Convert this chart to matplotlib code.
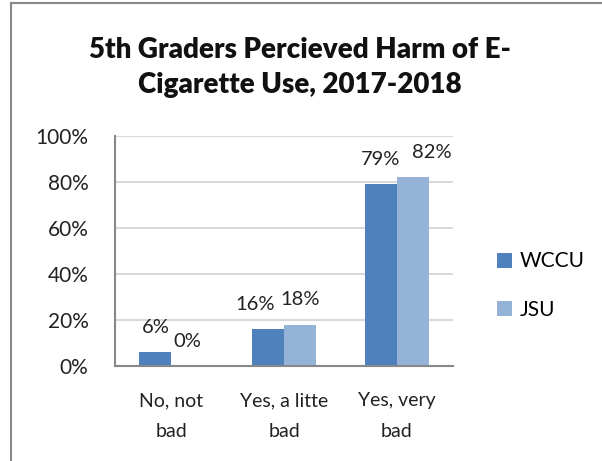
import numpy as np
import matplotlib
matplotlib.use("Agg")
import matplotlib.pyplot as plt
from matplotlib.lines import Line2D

plt.rcParams['font.family'] = ['Lato', 'DejaVu Sans']

# survey answers and the share of 5th graders per site
categories = ["No, not\nbad", "Yes, a litte\nbad", "Yes, very\nbad"]
wccu = [6, 16, 79]
jsu = [0, 18, 82]
series_names = ["WCCU", "JSU"]
colors = ["#4F81BD", "#95B3D7"]
yticks = [0, 20, 40, 60, 80, 100]

# sideways nudges (points) for labels that would otherwise overlap
wccu_nudge = [0, -9, 0]
jsu_nudge = [0, 0, 14]

fig = plt.figure(figsize=(6.02, 4.61), dpi=100)
ax = fig.add_axes([115 / 602, 1 - 366 / 461, 338 / 602, 230 / 461])

x = np.arange(len(categories))
w = 0.284
b1 = ax.bar(x - w / 2, wccu, w, color=colors[0], label=series_names[0], zorder=3)
b2 = ax.bar(x + w / 2, jsu, w, color=colors[1], label=series_names[1], zorder=3)

for bars, vals, nudge in ((b1, wccu, wccu_nudge), (b2, jsu, jsu_nudge)):
    for rect, v, dx in zip(bars, vals, nudge):
        ax.annotate(f"{v}%", (rect.get_x() + rect.get_width() / 2, v),
                    xytext=(dx, 18), textcoords="offset points",
                    ha="center", va="center", fontsize=14.5, color="#222222")

ax.set_xlim(-0.5, 2.5)
ax.set_ylim(0, 100)
ax.set_yticks(yticks)
ax.set_yticklabels([f"{t}%" for t in yticks])
ax.set_xticks(x)
ax.set_xticklabels(categories, linespacing=2.0)
ax.tick_params(axis="y", length=0, pad=19, labelsize=15, labelcolor="#222222")
ax.tick_params(axis="x", length=0, pad=19, labelsize=14, labelcolor="#222222")
ax.grid(axis="y", color="#D9D9D9", linewidth=1.5, zorder=0)
for s in ("top", "right"):
    ax.spines[s].set_visible(False)
for s in ("left", "bottom"):
    ax.spines[s].set_color("#888888")
    ax.spines[s].set_linewidth(1.5)
    ax.spines[s].set_zorder(4)

fig.text(300 / 602, 1 - 67.5 / 461,
         "5th Graders Percieved Harm of E-\nCigarette Use, 2017-2018",
         ha="center", va="center", fontsize=20, fontweight="heavy",
         linespacing=1.4, color="#111111")

ax.legend(loc="center left", bbox_to_anchor=(487 / 602, 1 - 285.5 / 461),
          bbox_transform=fig.transFigure, frameon=False, fontsize=15,
          handlelength=0.72, handleheight=0.72, handletextpad=0.35,
          labelspacing=1.35, borderpad=0)

# outer frame lines along the left and top edges
fig.add_artist(Line2D([11 / 602, 11 / 602], [0, 1 - 3 / 461],
                      transform=fig.transFigure, color="#888888", linewidth=1.5))
fig.add_artist(Line2D([11 / 602, 1], [1 - 3 / 461, 1 - 3 / 461],
                      transform=fig.transFigure, color="#888888", linewidth=1.5))

fig.savefig("out.png", dpi=100)
